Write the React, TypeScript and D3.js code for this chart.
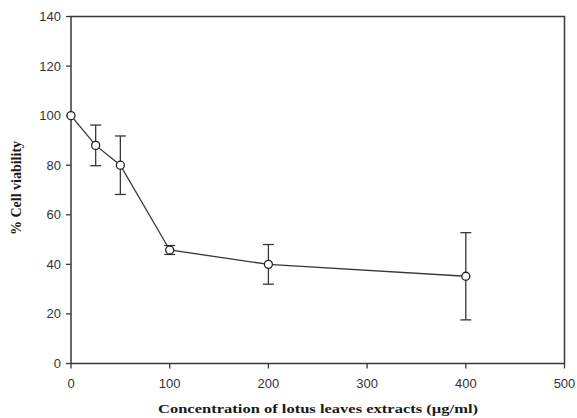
import React from 'react';
import * as d3 from 'd3';

const concentrations = [0, 25, 50, 100, 200, 400];
const viability = [100, 88, 80, 45.8, 40, 35.2];
const errors = [0, 8.2, 11.8, 1.8, 8, 17.6];
const xTicks = [0, 100, 200, 300, 400, 500];
const yTicks = [0, 20, 40, 60, 80, 100, 120, 140];

const width = 577;
const height = 418;
const margin = { top: 16.5, right: 12.5, bottom: 54.5, left: 71 };

const App = () => {
	const x = d3.scaleLinear().domain([0, 500]).range([margin.left, width - margin.right]);
	const y = d3.scaleLinear().domain([0, 140]).range([height - margin.bottom, margin.top]);
	const pts = concentrations.map((c, i) => ({ c, v: viability[i], e: errors[i] }));
	const line = d3.line<{ c: number; v: number }>().x((d) => x(d.c)).y((d) => y(d.v));
	const stroke = '#383838';
	const axisFont = '"Liberation Sans", Arial, sans-serif';
	const titleFont = '"Liberation Serif", "Times New Roman", serif';
	const y0 = y(0);

	return (
		<div style={{ position: 'absolute', left: 0, top: 0 }}>
			<svg width={width} height={height} style={{ display: 'block', background: '#fff' }}>
				{/* frame */}
				<rect x={x(0)} y={y(140)} width={x(500) - x(0)} height={y0 - y(140)} fill="none" stroke={stroke} strokeWidth={1.5} />
				{/* y ticks */}
				{yTicks.map((t) => (
					<g key={'y' + t}>
						<line x1={x(0) - 5} x2={x(0)} y1={y(t)} y2={y(t)} stroke={stroke} strokeWidth={1.3} />
						<text x={x(0) - 10} y={y(t)} dy="0.35em" textAnchor="end" fontFamily={axisFont} fontSize={13} fill="#333">
							{t}
						</text>
					</g>
				))}
				{/* x ticks */}
				{xTicks.map((t) => (
					<g key={'x' + t}>
						<line x1={x(t)} x2={x(t)} y1={y0} y2={y0 + 5} stroke={stroke} strokeWidth={1.3} />
						<text x={x(t)} y={y0 + 24} textAnchor="middle" fontFamily={axisFont} fontSize={13} fill="#333">
							{t}
						</text>
					</g>
				))}
				{/* error bars */}
				{pts.filter((d) => d.e > 0).map((d) => (
					<g key={'e' + d.c} stroke={stroke} strokeWidth={1.3}>
						<line x1={x(d.c)} x2={x(d.c)} y1={y(d.v + d.e)} y2={y(d.v - d.e)} />
						<line x1={x(d.c) - 5.5} x2={x(d.c) + 5.5} y1={y(d.v + d.e)} y2={y(d.v + d.e)} />
						<line x1={x(d.c) - 5.5} x2={x(d.c) + 5.5} y1={y(d.v - d.e)} y2={y(d.v - d.e)} />
					</g>
				))}
				<path d={line(pts) || ''} fill="none" stroke={stroke} strokeWidth={1.3} />
				{pts.map((d) => (
					<circle key={'p' + d.c} cx={x(d.c)} cy={y(d.v)} r={4} fill="#fff" stroke="#222" strokeWidth={1.3} />
				))}
				{/* titles */}
				<text x={318} y={413} textAnchor="middle" fontFamily={titleFont} fontWeight="bold" fontSize={13} fill="#1a1a1a" textLength={320} lengthAdjust="spacingAndGlyphs">
					Concentration of lotus leaves extracts (µg/ml)
				</text>
				<text transform={`translate(21, ${(y(0) + y(140)) / 2 - 2}) rotate(-90)`} textAnchor="middle" fontFamily={titleFont} fontWeight="bold" fontSize={14} fill="#1a1a1a">
					% Cell viability
				</text>
			</svg>
		</div>
	);
};

export default App;
